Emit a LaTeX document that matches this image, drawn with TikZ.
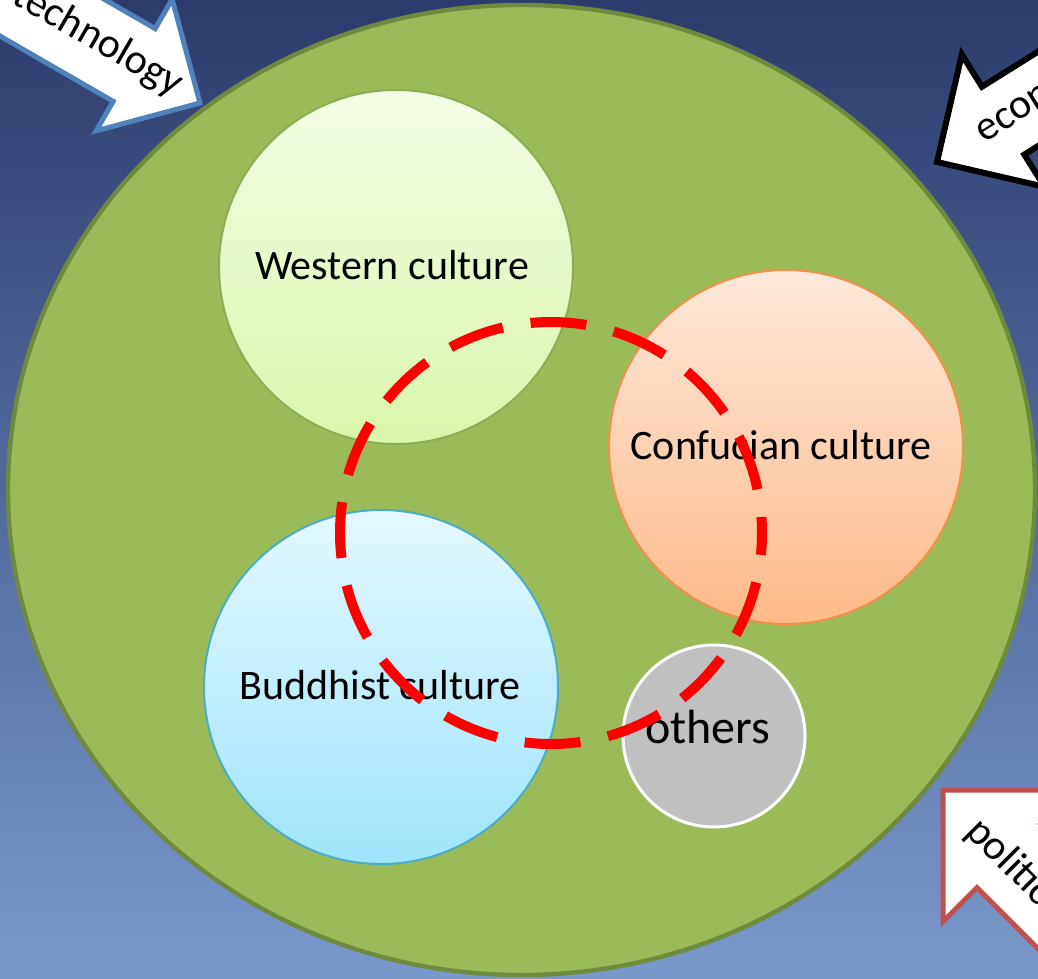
\documentclass[tikz,border=0pt]{standalone}
\usepackage{fontspec}
\setmainfont{Carlito}
\usetikzlibrary{shapes.geometric}
\definecolor{bgtop}{HTML}{2C3B6C}
\definecolor{bgbot}{HTML}{7A98CC}
\definecolor{worldfill}{HTML}{9BBB59}
\definecolor{worlddraw}{HTML}{6F8A3C}
\definecolor{wtop}{HTML}{F3FDE6}
\definecolor{wbot}{HTML}{DAF6AA}
\definecolor{wdraw}{HTML}{8CAE52}
\definecolor{ctop}{HTML}{FDE8DA}
\definecolor{cbot}{HTML}{FFBA88}
\definecolor{cdraw}{HTML}{F0904A}
\definecolor{btop}{HTML}{E4F8FE}
\definecolor{bbot}{HTML}{9EE5FC}
\definecolor{bdraw}{HTML}{4BACC6}
\definecolor{otherfill}{HTML}{C0C0C0}
\definecolor{techdraw}{HTML}{4F81BD}
\definecolor{poldraw}{HTML}{C0504D}
\definecolor{dashred}{HTML}{FF0000}
\tikzset{
  culture/.style={circle, draw, line width=1pt, minimum size=354*0.5pt, inner sep=0pt},
  culturetext/.style={font=\fontsize{21}{24}\selectfont, text=black, inner sep=0pt},
  arrowtext/.style={font=\fontsize{21}{24}\selectfont, text=black, inner sep=0pt},
  blockarrow/.style={fill=white, line width=2.5pt, line join=miter},
}
\begin{document}
\begin{tikzpicture}[x=0.5pt, y=-0.5pt]
  % background
  \shade[top color=bgtop, bottom color=bgbot] (0,0) rectangle (1038,979);
  \useasboundingbox (0,0) rectangle (1038,979);

  % world ellipse
  \node[ellipse, draw=worlddraw, fill=worldfill, line width=2.2pt, inner sep=0pt,
        minimum width=1027*0.5pt, minimum height=970*0.5pt] (world) at (521.5,490) {};

  % technology arrow (pointing down-right)
  \begin{scope}[shift={(200,103)}, rotate=-30]
    \draw[blockarrow, draw=techdraw]
      (0,0) -- (-76,76) -- (-76,42) -- (-400,42) -- (-400,-42) -- (-76,-42) -- (-76,-76) -- cycle;
  \end{scope}
  \node[arrowtext, rotate=-30] (tech) at (98,40) {technology};

  % economy arrow (pointing down-left)
  \begin{scope}[shift={(937,162)}, rotate=212]
    \draw[blockarrow, draw=black, line width=3pt]
      (0,0) -- (-78,78) -- (-78,40) -- (-400,40) -- (-400,-40) -- (-78,-40) -- (-78,-78) -- cycle;
  \end{scope}
  \node[arrowtext, rotate=32] (econ) at (1047,96) {economy};

  % politics arrow (pointing up-left)
  \begin{scope}[shift={(943,790)}, rotate=135]
    \draw[blockarrow, draw=poldraw]
      (0,0) -- (-93,93) -- (-93,45) -- (-400,45) -- (-400,-45) -- (-93,-45) -- (-93,-93) -- cycle;
  \end{scope}
  \node[arrowtext, rotate=-45] (pol) at (1015,868) {politics};

  % cultures
  \node[culture, draw=wdraw, top color=wtop, bottom color=wbot] (western) at (396,267) {};
  \node[culturetext] (westerntext) at (392,265) {Western culture};
  \node[culture, draw=cdraw, top color=ctop, bottom color=cbot] (confucian) at (786,447) {};
  \node[culturetext] (confuciantext) at (781,445) {Confucian culture};
  \node[culture, draw=bdraw, top color=btop, bottom color=bbot] (buddhist) at (381,687) {};
  \node[culturetext] (buddhisttext) at (380,685) {Buddhist culture};
  \node[circle, draw=white, fill=otherfill, line width=1.5pt, minimum size=182*0.5pt, inner sep=0pt] (others) at (714,736) {};
  \node[font=\fontsize{24}{28}\selectfont, text=black, inner sep=0pt] (otherstext) at (708,727) {others};

  % red dashed circle
  \node[circle, draw=dashred, line width=5pt, minimum size=422*0.5pt, inner sep=0pt,
        dash pattern=on 28pt off 14pt, dash phase=20pt] (core) at (551,533) {};
\end{tikzpicture}
\end{document}
